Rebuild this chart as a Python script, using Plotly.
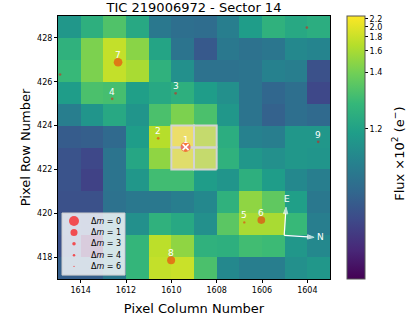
import numpy as np
import plotly.graph_objects as go

# ── Data ─────────────────────────────────────────────────────────────────────

TITLE = "TIC 219006972 - Sector 14"

columns = np.arange(1614, 1602, -1)  # pixel columns, left to right
rows = np.arange(428, 416, -1)       # pixel rows, top to bottom

# median flux per pixel, units of 1e2 e-
flux = np.array([
    [1.185, 1.230, 1.306, 1.213, 1.159, 1.155, 1.154, 1.163, 1.192, 1.236, 1.213, 1.224],
    [1.236, 1.428, 1.755, 1.471, 1.204, 1.157, 1.1488, 1.159, 1.156, 1.158, 1.170, 1.167],
    [1.258, 1.428, 1.755, 1.607, 1.236, 1.177, 1.156, 1.156, 1.157, 1.165, 1.163, 1.1473],
    [1.192, 1.295, 1.285, 1.196, 1.213, 1.230, 1.192, 1.177, 1.157, 1.152, 1.155, 1.1461],
    [1.163, 1.182, 1.213, 1.182, 1.295, 1.428, 1.295, 1.185, 1.157, 1.1506, 1.155, 1.153],
    [1.1493, 1.1499, 1.153, 1.192, 1.675, 2.285, 1.714, 1.224, 1.165, 1.163, 1.185, 1.185],
    [1.1477, 1.1461, 1.157, 1.208, 1.494, 2.070, 1.714, 1.236, 1.185, 1.177, 1.185, 1.182],
    [1.1477, 1.1454, 1.157, 1.185, 1.275, 1.275, 1.192, 1.182, 1.230, 1.192, 1.170, 1.163],
    [1.1473, 1.1473, 1.156, 1.159, 1.159, 1.163, 1.170, 1.236, 1.494, 1.344, 1.196, 1.159],
    [1.1481, 1.1473, 1.159, 1.177, 1.236, 1.213, 1.177, 1.331, 1.607, 1.607, 1.258, 1.163],
    [1.1473, 1.142, 1.162, 1.250, 1.714, 1.494, 1.236, 1.230, 1.275, 1.266, 1.185, 1.170],
    [1.1499, 1.1499, 1.159, 1.250, 1.755, 1.799, 1.295, 1.170, 1.163, 1.163, 1.177, 1.185],
])

# lower-left corners of the aperture pixels
aperture_cols = [1609, 1608, 1609, 1608]
aperture_rows = [423, 423, 422, 422]

# Gaia sources (first one is the target)
star_col = [1609.37, 1610.58, 1609.81, 1612.61, 1606.78, 1606.03, 1612.35, 1610.01, 1603.52, 1614.91, 1604.02]
star_row = [423.02, 423.42, 425.47, 425.22, 419.58, 419.69, 426.89, 417.86, 423.26, 426.33, 428.47]
star_dmag = [0.0, 3.8, 3.8, 3.8, 4.2, 0.75, 0.4, 0.65, 3.8, 3.8, 3.8]
star_label = ["1", "2", "3", "4", "5", "6", "7", "8", "9", "", ""]

legend_dmag = [0, 1, 3, 4, 6]
cbar_ticks = [1.2, 1.4, 1.6, 1.8, 2.0, 2.2]
x_ticks = [1614, 1612, 1610, 1608, 1606, 1604]
y_ticks = [418, 420, 422, 424, 426, 428]

# ── Helpers ──────────────────────────────────────────────────────────────────

FONT = "DejaVu Sans"
STAR_COLOR = "rgba(255,0,0,0.65)"
W, H = 411, 326
L, T, R, B = 58, 16, 330, 287  # plot area in pixels

vmin, vmax = flux.min(), flux.max()


def log_stretch(v, a=1000.0):
    x = (np.asarray(v, dtype=float) - vmin) / (vmax - vmin)
    return np.log10(a * x + 1) / np.log10(a + 1)


def dmag_size(dm):
    return 10 * 2 ** (-dm / 2)


def px(xp):
    return (xp - L) / (R - L)


def py(yp):
    return (B - yp) / (B - T)


# ── Figure ───────────────────────────────────────────────────────────────────

fig = go.Figure()

fig.add_trace(go.Heatmap(
    z=log_stretch(flux),
    x=columns + 0.5,
    y=rows + 0.5,
    colorscale="Viridis",
    zmin=0,
    zmax=1,
    hoverinfo="skip",
    colorbar=dict(
        x=px(347), xanchor="left", xpad=0,
        y=0.5, yanchor="middle", len=1, ypad=0,
        thickness=18, outlinewidth=1, outlinecolor="#555555",
        tickvals=log_stretch(cbar_ticks).tolist(),
        ticktext=[f"{t:.1f}" for t in cbar_ticks],
        ticks="outside", ticklen=3, tickcolor="black",
        tickfont=dict(size=8, family=FONT, color="black"),
    ),
))

for c, r in zip(aperture_cols, aperture_rows):
    fig.add_trace(go.Scatter(
        x=[c, c + 1, c + 1, c, c], y=[r, r, r + 1, r + 1, r],
        mode="lines", fill="toself", fillcolor="rgba(211,211,211,0.4)",
        line=dict(color="lightgray", width=2), hoverinfo="skip", showlegend=False,
    ))

fig.add_trace(go.Scatter(
    x=star_col, y=star_row, mode="markers",
    marker=dict(size=[dmag_size(d) for d in star_dmag], color=STAR_COLOR, line=dict(width=0)),
    hoverinfo="skip", showlegend=False,
))
fig.add_trace(go.Scatter(
    x=star_col[:1], y=star_row[:1], mode="markers",
    marker=dict(symbol="x-thin", size=6, line=dict(color="white", width=1.6)),
    hoverinfo="skip", showlegend=False,
))

for c, r, lab in zip(star_col, star_row, star_label):
    if lab:
        fig.add_annotation(x=c, y=r, text=lab, showarrow=False, yshift=7,
                           font=dict(color="white", size=9, family=FONT))

# compass (E up, N right)
for tip_x, tip_y in [(1604.94, 420.28), (1603.70, 418.90)]:
    fig.add_trace(go.Scatter(
        x=[1605.02, tip_x], y=[418.99, tip_y], mode="lines+markers",
        line=dict(color="white", width=1.2),
        marker=dict(symbol="arrow", size=[0, 7], angleref="previous", color="white"),
        hoverinfo="skip", showlegend=False,
    ))
fig.add_annotation(x=1604.91, y=420.65, text="E", showarrow=False,
                   font=dict(color="white", size=9, family=FONT))
fig.add_annotation(x=1603.44, y=418.93, text="N", showarrow=False,
                   font=dict(color="white", size=9, family=FONT))

# legend drawn by hand so it stays compact
shapes = [dict(type="rect", xref="paper", yref="paper",
               x0=px(62), x1=px(125), y0=py(283), y1=py(219),
               fillcolor="rgba(255,255,255,0.8)", line=dict(color="#cccccc", width=1))]
for i, dm in enumerate(legend_dmag):
    yc = 227.3 + i * 11.7
    d = dmag_size(dm)
    shapes.append(dict(type="circle", xref="paper", yref="paper",
                       xsizemode="pixel", ysizemode="pixel",
                       xanchor=px(74), yanchor=py(yc),
                       x0=-d / 2, x1=d / 2, y0=-d / 2, y1=d / 2,
                       fillcolor=STAR_COLOR, line=dict(width=0)))
    fig.add_annotation(xref="paper", yref="paper", x=px(88.5), y=py(yc),
                       xanchor="left", yanchor="middle", showarrow=False,
                       text=f"Δ<i>m</i> = {dm}",
                       font=dict(size=8, family=FONT, color="black"))

fig.add_annotation(xref="paper", yref="paper", x=px(398), y=py(158),
                   text="Flux ×10<sup>2</sup> (e<sup>−</sup>)", textangle=-90,
                   showarrow=False, xanchor="center", yanchor="middle",
                   font=dict(size=13, family=FONT, color="black"))

axis_common = dict(
    showgrid=False, zeroline=False, showline=True, mirror=True,
    linecolor="black", linewidth=1, ticks="outside", ticklen=3,
    tickcolor="black", tickfont=dict(size=8, family=FONT, color="black"),
)

fig.update_layout(
    width=W, height=H,
    margin=dict(l=L, r=W - R, t=T, b=H - B),
    paper_bgcolor="white",
    plot_bgcolor="white",
    showlegend=False,
    font=dict(family=FONT, color="black"),
    shapes=shapes,
    title=dict(text=TITLE, x=0.5, xref="paper", y=1 - 7.5 / H, yref="container",
               xanchor="center", yanchor="middle", font=dict(size=13, family=FONT)),
    xaxis=dict(range=[1615, 1603], tickvals=x_ticks,
               title=dict(text="Pixel Column Number", font=dict(size=13), standoff=10),
               **axis_common),
    yaxis=dict(range=[417, 429], tickvals=y_ticks,
               title=dict(text="Pixel Row Number", font=dict(size=13), standoff=3),
               **axis_common),
)

fig.write_html("out.html", config=dict(displayModeBar=False),
               post_script="document.body.style.margin = '0';")
